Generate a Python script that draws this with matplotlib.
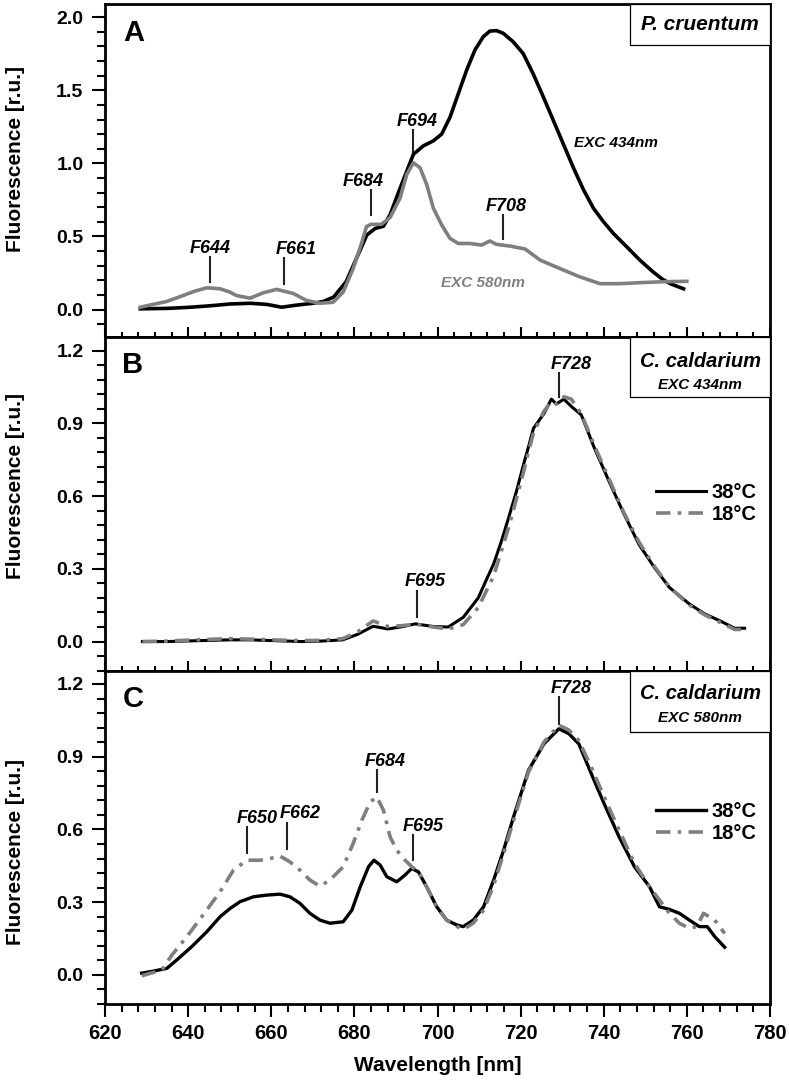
import matplotlib
matplotlib.use("Agg")
from matplotlib import pyplot as plt
from matplotlib.ticker import MultipleLocator, FormatStrFormatter
from matplotlib.patches import Rectangle

plt.rcParams['font.family'] = ['Liberation Sans', 'DejaVu Sans']
plt.rcParams['font.weight'] = 'bold'
plt.rcParams['axes.labelweight'] = 'bold'

GRAY = '#7f7f7f'

# Panel A - P. cruentum, two excitation wavelengths
a_wl_434 = [628.5, 635, 640, 645, 650, 655, 659, 662.5, 666, 670, 672.5, 675, 678, 680.5,
            683, 685, 687, 688.6, 691, 694.2, 696.6, 699, 701, 703, 705, 707, 709, 711,
            712.6, 714.2, 715.8, 718.2, 720.6, 723, 725.5, 727.9, 730.3, 732.7, 735.1,
            737.5, 739.9, 742.3, 745.5, 748.7, 751.9, 754, 756, 759.2]
a_fl_434 = [0.005, 0.008, 0.015, 0.025, 0.038, 0.043, 0.035, 0.016, 0.03, 0.043, 0.055, 0.085,
            0.19, 0.35, 0.51, 0.555, 0.57, 0.65, 0.83, 1.062, 1.12, 1.154, 1.20, 1.315, 1.476,
            1.637, 1.775, 1.866, 1.905, 1.908, 1.89, 1.832, 1.752, 1.614, 1.452, 1.292, 1.131,
            0.97, 0.821, 0.694, 0.602, 0.521, 0.43, 0.338, 0.257, 0.21, 0.177, 0.142]
a_wl_580 = [628.5, 631.5, 634.8, 638.8, 641.5, 644.5, 647.7, 650, 651.6, 654.9, 658.1, 661.3,
            665.3, 668.5, 671.7, 674.9, 677.3, 679.7, 681.8, 682.9, 684, 686.5, 688.6, 691,
            692.6, 694.2, 695.8, 697.4, 699, 701, 703, 705, 707.8, 710.6, 712.6, 714.2, 717.5,
            721.1, 724.7, 729.5, 734.3, 739.1, 743.9, 748.7, 754, 760]
a_fl_580 = [0.016, 0.035, 0.055, 0.096, 0.125, 0.149, 0.142, 0.12, 0.096, 0.078, 0.115, 0.138,
            0.11, 0.062, 0.043, 0.05, 0.12, 0.28, 0.46, 0.567, 0.583, 0.583, 0.63, 0.763,
            0.924, 1.004, 0.97, 0.855, 0.694, 0.579, 0.487, 0.452, 0.452, 0.441, 0.469, 0.446,
            0.434, 0.414, 0.338, 0.28, 0.223, 0.177, 0.177, 0.184, 0.19, 0.193]
a_peaks = ['F644', 'F661', 'F684', 'F694', 'F708']
a_peak_x = [645.3, 663.1, 683.9, 694.2, 715.8]
a_peak_lo = [0.19, 0.177, 0.648, 1.06, 0.483]
a_peak_hi = [0.36, 0.35, 0.82, 1.23, 0.648]
a_label_x = [645.3, 666.1, 682.2, 695.0, 716.5]

# Panel B - C. caldarium, EXC 434nm
b_wl = [629, 635, 643, 650, 655, 662, 667.5, 672, 677.2, 680.8, 684.5, 688.1, 691.7, 694.7,
        699, 702.6, 706.2, 709.8, 711.5, 713.5, 715.3, 717.1, 719, 720.7, 722, 723.1, 725.6,
        727.4, 728.6, 730.4, 732.2, 734.6, 737.7, 741.3, 744.9, 748.5, 752.2, 755.8, 760.6,
        764.3, 767.9, 771.5, 773.9]
b_fl_38 = [0.0, 0.0, 0.004, 0.007, 0.007, 0.003, 0.0, 0.002, 0.007, 0.03, 0.063, 0.052, 0.062,
           0.073, 0.062, 0.06, 0.10, 0.18, 0.245, 0.32, 0.41, 0.51, 0.62, 0.73, 0.81, 0.88,
           0.94, 1.0, 0.98, 1.0, 0.97, 0.935, 0.80, 0.66, 0.525, 0.40, 0.305, 0.223, 0.155,
           0.114, 0.086, 0.055, 0.055]
b_fl_18 = [0.0, 0.002, 0.008, 0.012, 0.01, 0.006, 0.004, 0.005, 0.012, 0.04, 0.085, 0.062, 0.066,
           0.072, 0.06, 0.052, 0.07, 0.14, 0.20, 0.27, 0.37, 0.47, 0.59, 0.70, 0.79, 0.86,
           0.95, 0.99, 0.98, 1.01, 1.0, 0.94, 0.81, 0.67, 0.53, 0.41, 0.31, 0.225, 0.15, 0.11,
           0.08, 0.05, 0.05]
b_peaks = ['F695', 'F728']
b_peak_x = [695.1, 729.2]
b_peak_lo = [0.10, 1.01]
b_peak_hi = [0.21, 1.107]
b_label_x = [697.1, 732.2]

# Panel C - C. caldarium, EXC 580nm
c_wl_38 = [628.8, 631.2, 634.9, 637.3, 640.9, 644.5, 647.7, 650.1, 652.5, 655.7, 658.9, 662.1,
           664.5, 666.9, 669.3, 671.7, 674.1, 677.3, 679.4, 681.4, 683.4, 684.7, 686.2, 687.8,
           690.2, 692.2, 693.8, 695.4, 697.4, 699.8, 702.2, 704.6, 706.2, 708.6, 711.1,
           713.5, 715.9, 718.3, 721.9, 725.6, 729.2, 731.6, 734, 737, 740.1, 743.7, 747.4,
           751, 753.4, 755.8, 758.2, 760.6, 763, 764.9, 766.7, 769.1]
c_fl_38 = [0.007, 0.014, 0.027, 0.062, 0.117, 0.178, 0.24, 0.274, 0.302, 0.322, 0.329, 0.333,
           0.322, 0.295, 0.254, 0.226, 0.213, 0.219, 0.267, 0.363, 0.446, 0.473, 0.453, 0.405,
           0.384, 0.412, 0.439, 0.425, 0.363, 0.281, 0.226, 0.206, 0.199, 0.226, 0.281,
           0.391, 0.514, 0.652, 0.844, 0.953, 1.015, 0.995, 0.953, 0.83, 0.706, 0.569, 0.446,
           0.364, 0.281, 0.27, 0.254, 0.226, 0.199, 0.199, 0.158, 0.114]
c_wl_18 = [628.8, 633.7, 636.1, 639.7, 643.3, 647.7, 650.9, 654.1, 657.3, 659.7, 662.1, 664.5,
           666.9, 669.3, 671.7, 674.1, 677.3, 679.7, 681.8, 683.8, 685.4, 687, 688.6, 690.2,
           692.2, 693.8, 695.4, 697.4, 699.8, 702.2, 704.6, 706.2, 708.6, 711.1, 713.5, 715.9,
           718.3, 721.9, 725.6, 729.2, 731.6, 734, 737, 740.1, 743.7, 747.4, 751, 753.4,
           755.8, 758.2, 760.6, 762.4, 764, 766.7, 769.1]
c_fl_18 = [-0.004, 0.02, 0.082, 0.158, 0.24, 0.343, 0.432, 0.473, 0.473, 0.48, 0.49, 0.466,
           0.432, 0.391, 0.366, 0.391, 0.446, 0.542, 0.638, 0.713, 0.734, 0.679, 0.569, 0.514,
           0.473, 0.446, 0.425, 0.363, 0.281, 0.226, 0.2, 0.188, 0.213, 0.267, 0.37, 0.50,
           0.638, 0.837, 0.96, 1.03, 1.01, 0.967, 0.857, 0.734, 0.597, 0.46, 0.364, 0.309,
           0.254, 0.213, 0.192, 0.199, 0.254, 0.226, 0.171]
c_peaks = ['F650', 'F662', 'F684', 'F695', 'F728']
c_peak_x = [654.2, 663.7, 685.4, 694.1, 729.2]
c_peak_lo = [0.503, 0.521, 0.754, 0.473, 1.035]
c_peak_hi = [0.61, 0.628, 0.844, 0.576, 1.145]
c_label_x = [656.6, 666.9, 687.5, 696.5, 732.2]

xticks = [620, 640, 660, 680, 700, 720, 740, 760, 780]


def style_axis(ax, ymajor, yminor, ylim, bottom):
    ax.set_xlim(620, 780)
    ax.set_ylim(*ylim)
    ax.xaxis.set_major_locator(MultipleLocator(20))
    ax.xaxis.set_minor_locator(MultipleLocator(4))
    ax.yaxis.set_major_locator(MultipleLocator(ymajor))
    ax.yaxis.set_minor_locator(MultipleLocator(yminor))
    ax.yaxis.set_major_formatter(FormatStrFormatter('%.1f'))
    for s in ax.spines.values():
        s.set_linewidth(2.0)
    ax.tick_params(axis='y', which='major', direction='out', length=9.5, width=1.5,
                   labelsize=14, pad=6)
    ax.tick_params(axis='y', which='minor', direction='out', length=5.8, width=1.5)
    if bottom:
        ax.tick_params(axis='x', which='major', direction='out', length=9.5, width=1.5,
                       labelsize=14.5, pad=5)
        ax.tick_params(axis='x', which='minor', direction='out', length=5.8, width=1.5)
    else:
        ax.tick_params(axis='x', which='major', direction='in', length=7, width=1.5,
                       labelbottom=False)
        ax.tick_params(axis='x', which='minor', direction='in', length=3.6, width=1.5)


def add_peaks(ax, names, px, lo, hi, lx):
    for n, x, y0, y1, tx in zip(names, px, lo, hi, lx):
        ax.plot([x, x], [y0, y1], color='#222222', lw=1.5)
        ax.annotate(n, (tx, y1), xytext=(0, 3), textcoords='offset points',
                    ha='center', va='baseline', fontsize=13, fontstyle='italic',
                    fontweight='bold')


def add_box(ax, height, lines):
    ax.add_patch(Rectangle((0.789, 1 - height), 0.211, height, transform=ax.transAxes,
                           facecolor='white', edgecolor='black', lw=0.9, zorder=5))
    for txt, y, size in lines:
        ax.text(0.895, y, txt, transform=ax.transAxes, ha='center', va='center',
                fontsize=size, fontstyle='italic', fontweight='bold', zorder=6)


fig, (ax1, ax2, ax3) = plt.subplots(3, 1, figsize=(7.89, 10.87), dpi=100)
fig.subplots_adjust(left=0.1331, right=0.9759, top=0.9963, bottom=0.0764, hspace=0)

# A
ax1.plot(a_wl_434, a_fl_434, color='black', lw=2.6, zorder=3)
ax1.plot(a_wl_580, a_fl_580, color=GRAY, lw=2.6, zorder=4)
style_axis(ax1, 0.5, 0.1, (-0.19, 2.09), False)
add_peaks(ax1, a_peaks, a_peak_x, a_peak_lo, a_peak_hi, a_label_x)
ax1.text(743, 1.14, 'EXC 434nm', ha='center', va='center', fontsize=11, fontstyle='italic',
         fontweight='bold')
ax1.text(711, 0.18, 'EXC 580nm', ha='center', va='center', fontsize=11, fontstyle='italic',
         fontweight='bold', color=GRAY)
add_box(ax1, 0.124, [('P. cruentum', 0.94, 15)])
ax1.text(0.044, 0.912, 'A', transform=ax1.transAxes, ha='center', va='center', fontsize=21,
         fontweight='bold')
ax1.set_ylabel('Fluorescence [r.u.]', fontsize=15, fontweight='bold')
ax1.yaxis.set_label_coords(-0.12, 0.535)

# B
l38, = ax2.plot(b_wl, b_fl_38, color='black', lw=2.2, zorder=3)
l18, = ax2.plot(b_wl, b_fl_18, color=GRAY, lw=2.6, ls=(0, (4, 2, 1, 2)), zorder=4)
style_axis(ax2, 0.3, 0.06, (-0.12, 1.255), False)
add_peaks(ax2, b_peaks, b_peak_x, b_peak_lo, b_peak_hi, b_label_x)
add_box(ax2, 0.18, [('C. caldarium', 0.928, 14.5), ('EXC 434nm', 0.857, 11)])
ax2.text(0.042, 0.916, 'B', transform=ax2.transAxes, ha='center', va='center', fontsize=21,
         fontweight='bold')
ax2.legend([l38, l18], ['38°C', '18°C'], loc='center left', bbox_to_anchor=(0.828, 0.50),
           frameon=False, prop={'size': 14.5, 'weight': 'bold'}, handlelength=2.5,
           handletextpad=0.3, labelspacing=0.15, borderpad=0, borderaxespad=0)
ax2.set_ylabel('Fluorescence [r.u.]', fontsize=15, fontweight='bold')
ax2.yaxis.set_label_coords(-0.12, 0.555)

# C
m38, = ax3.plot(c_wl_38, c_fl_38, color='black', lw=2.4, zorder=3)
m18, = ax3.plot(c_wl_18, c_fl_18, color=GRAY, lw=2.6, ls=(0, (4, 2, 1, 2)), zorder=4)
style_axis(ax3, 0.3, 0.06, (-0.12, 1.255), True)
ax3.set_xticks(xticks)
add_peaks(ax3, c_peaks, c_peak_x, c_peak_lo, c_peak_hi, c_label_x)
add_box(ax3, 0.183, [('C. caldarium', 0.931, 14.5), ('EXC 580nm', 0.859, 11)])
ax3.text(0.042, 0.916, 'C', transform=ax3.transAxes, ha='center', va='center', fontsize=21,
         fontweight='bold')
ax3.legend([m38, m18], ['38°C', '18°C'], loc='center left', bbox_to_anchor=(0.828, 0.543),
           frameon=False, prop={'size': 14.5, 'weight': 'bold'}, handlelength=2.5,
           handletextpad=0.3, labelspacing=0.15, borderpad=0, borderaxespad=0)
ax3.set_ylabel('Fluorescence [r.u.]', fontsize=15, fontweight='bold')
ax3.yaxis.set_label_coords(-0.12, 0.455)
ax3.set_xlabel('Wavelength [nm]', fontsize=15, fontweight='bold', va='top')
ax3.xaxis.set_label_coords(0.5, -0.155)

# tick labels only exist after a draw, make them bold then
fig.canvas.draw()
for ax in (ax1, ax2, ax3):
    for t in ax.xaxis.get_major_ticks() + ax.yaxis.get_major_ticks():
        t.label1.set_fontweight('bold')

fig.savefig('out.png', dpi=100)
